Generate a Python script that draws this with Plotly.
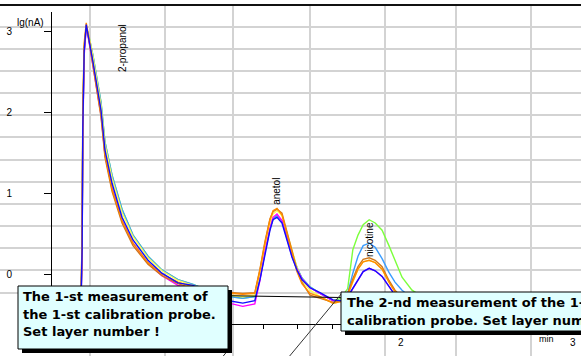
import plotly.graph_objects as go

W, H = 581, 356

# ---------------- data ----------------
t = [0.000, 0.100, 0.140, 0.146, 0.150, 0.158, 0.170, 0.185, 0.209, 0.256,
     0.279, 0.320, 0.378, 0.442, 0.529, 0.610, 0.703, 0.791, 0.900, 1.000,
     1.080, 1.150, 1.180, 1.209, 1.238, 1.256, 1.279, 1.308, 1.337, 1.366,
     1.395, 1.424, 1.471, 1.529, 1.605, 1.650, 1.690, 1.720, 1.750, 1.780,
     1.815, 1.850, 1.890, 1.930, 1.965, 2.006, 2.064, 2.150, 2.400]

blue = [-0.30, -0.30, -0.30, 0.30, 1.80, 2.75, 3.08, 2.90, 2.62, 2.02,
        1.53, 1.12, 0.70, 0.42, 0.17, 0.01, -0.11, -0.14, -0.24, -0.33,
        -0.36, -0.33, -0.07, 0.26, 0.54, 0.67, 0.70, 0.63, 0.42, 0.21,
        0.05, -0.07, -0.17, -0.23, -0.32, -0.33, -0.28, -0.18, -0.08, 0.03,
        0.07, 0.04, -0.03, -0.16, -0.26, -0.31, -0.33, -0.33, -0.33]

orange = [-0.28, -0.28, -0.28, 0.50, 2.00, 2.85, 3.10, 2.92, 2.60, 1.98,
          1.48, 1.05, 0.66, 0.38, 0.14, 0.00, -0.10, -0.16, -0.22, -0.24,
          -0.25, -0.24, 0.05, 0.38, 0.67, 0.78, 0.81, 0.73, 0.50, 0.26,
          0.03, -0.12, -0.24, -0.28, -0.36, -0.34, -0.26, -0.09, 0.06, 0.15,
          0.17, 0.14, 0.06, -0.10, -0.22, -0.30, -0.33, -0.33, -0.33]

dark_orange = [-0.27, -0.27, -0.27, 0.45, 1.95, 2.80, 3.06, 2.90, 2.56, 1.94,
               1.44, 1.02, 0.63, 0.35, 0.12, -0.02, -0.12, -0.18, -0.21, -0.23,
               -0.24, -0.23, 0.06, 0.40, 0.68, 0.77, 0.80, 0.75, 0.53, 0.29,
               0.05, -0.10, -0.26, -0.30, -0.35, -0.33, -0.24, -0.06, 0.09, 0.18,
               0.20, 0.17, 0.09, -0.08, -0.20, -0.29, -0.33, -0.33, -0.33]

magenta = [-0.32, -0.32, -0.32, 0.20, 1.70, 2.70, 3.05, 2.88, 2.58, 1.96,
           1.47, 1.06, 0.66, 0.38, 0.13, -0.02, -0.14, -0.18, -0.28, -0.36,
           -0.40, -0.37, -0.08, 0.27, 0.56, 0.70, 0.74, 0.66, 0.44, 0.22,
           0.06, -0.06, -0.17, -0.24, -0.33, -0.33, -0.28, -0.18, -0.08, 0.03,
           0.07, 0.04, -0.03, -0.16, -0.26, -0.31, -0.33, -0.33, -0.33]

yellow = [-0.28, -0.28, -0.28, 0.40, 1.90, 2.80, 3.06, 2.95, 2.68, 2.08,
          1.60, 1.18, 0.76, 0.46, 0.20, 0.04, -0.08, -0.14, -0.22, -0.26,
          -0.28, -0.26, 0.00, 0.33, 0.62, 0.74, 0.78, 0.72, 0.52, 0.30,
          0.08, -0.08, -0.20, -0.28, -0.36, -0.34, -0.26, -0.09, 0.06, 0.15,
          0.17, 0.14, 0.06, -0.10, -0.22, -0.30, -0.33, -0.33, -0.33]

light_blue = [-0.30, -0.30, -0.30, 0.30, 1.80, 2.75, 3.05, 2.94, 2.70, 2.12,
              1.63, 1.22, 0.80, 0.48, 0.22, 0.05, -0.07, -0.13, -0.22, -0.28,
              -0.30, -0.28, -0.05, 0.28, 0.56, 0.68, 0.72, 0.66, 0.46, 0.25,
              0.08, -0.05, -0.16, -0.24, -0.33, -0.33, -0.24, 0.01, 0.22, 0.35,
              0.38, 0.33, 0.19, 0.02, -0.10, -0.20, -0.30, -0.33, -0.33]

green = [-0.30, -0.30, -0.30, 0.30, 1.80, 2.75, 3.05, 2.94, 2.70, 2.12,
         1.63, 1.22, 0.80, 0.48, 0.22, 0.05, -0.07, -0.13, -0.22, -0.28,
         -0.30, -0.28, -0.05, 0.28, 0.56, 0.68, 0.72, 0.66, 0.46, 0.25,
         0.08, -0.05, -0.16, -0.24, -0.33, -0.30, -0.18, 0.30, 0.48, 0.61,
         0.67, 0.63, 0.54, 0.35, 0.17, -0.04, -0.20, -0.32, -0.33]

baseline_t = [0.90, 1.65]
baseline_v = [-0.265, -0.29]

peak_names = ["2-propanol", "anetol", "nicotine"]
peak_label_t = [0.378, 1.276, 1.820]
peak_label_v = [2.79, 1.02, 0.42]

x_tick_vals = [0.0, 0.2, 0.4, 0.6, 0.8, 1.0, 1.2, 1.4, 1.6, 1.8, 2.0,
               2.2, 2.4, 2.6, 2.8, 3.0]
# labels "0" and "1" sit under the first callout in the original picture
x_label_vals = [2, 3]
x_label_text = ["2", "3"]
y_tick_vals = [0, 1, 2, 3]
y_tick_text = ["0", "1", "2", "3"]

callout1 = ["The 1-st measurement of", "the 1-st calibration probe.",
            "Set layer number !"]
callout2 = ["The 2-nd measurement of the 1-st",
            "calibration probe. Set layer number !"]

# ---------------- figure ----------------
def px(x):
    return x / W


def py(y):
    return 1 - y / H


fig = go.Figure()
series = [
    (green, "#7cff3c"),
    (light_blue, "#3a9cff"),
    (yellow, "#ffff50"),
    (magenta, "#ff00ff"),
    (dark_orange, "#d0781c"),
    (orange, "#ff8a00"),
    (blue, "#1010ff"),
]
for vals, col in series:
    fig.add_trace(go.Scatter(x=t, y=vals, mode="lines",
                             line=dict(color=col, width=1.4),
                             hoverinfo="skip", showlegend=False))

fig.add_trace(go.Scatter(x=baseline_t, y=baseline_v, mode="lines",
                         line=dict(color="black", width=1),
                         hoverinfo="skip", showlegend=False))

shapes = []
grid_col = "#d3d3d3"
for gx in [90, 165, 233, 310, 385, 456, 531]:
    shapes.append(dict(type="line", xref="paper", yref="paper",
                       x0=px(gx), x1=px(gx), y0=0, y1=py(6),
                       line=dict(color=grid_col, width=2), layer="below"))
for gy in [27, 49, 71, 93, 115, 137, 160, 182, 204, 226, 248, 270, 293]:
    shapes.append(dict(type="line", xref="paper", yref="paper",
                       x0=0, x1=1, y0=py(gy), y1=py(gy),
                       line=dict(color=grid_col, width=2), layer="below"))
# top frame line
shapes.append(dict(type="line", xref="paper", yref="paper",
                   x0=0, x1=1, y0=py(5), y1=py(5),
                   line=dict(color="#111111", width=2), layer="above"))
# pointer lines
shapes.append(dict(type="line", xref="paper", yref="paper",
                   x0=px(342), y0=py(293), x1=px(283), y1=py(364),
                   line=dict(color="#333333", width=1), layer="above"))
shapes.append(dict(type="line", xref="paper", yref="paper",
                   x0=px(229), y0=py(349), x1=px(220), y1=py(360),
                   line=dict(color="#333333", width=1), layer="above"))
# callout boxes with shadows
shapes.append(dict(type="rect", xref="paper", yref="paper",
                   x0=px(22), x1=px(232), y0=py(353), y1=py(290),
                   fillcolor="black", line=dict(width=0), layer="above"))
shapes.append(dict(type="rect", xref="paper", yref="paper",
                   x0=px(18), x1=px(228), y0=py(349), y1=py(286),
                   fillcolor="#e0ffff", line=dict(color="black", width=1),
                   layer="above"))
shapes.append(dict(type="rect", xref="paper", yref="paper",
                   x0=px(345), x1=px(620), y0=py(335), y1=py(296),
                   fillcolor="black", line=dict(width=0), layer="above"))
shapes.append(dict(type="rect", xref="paper", yref="paper",
                   x0=px(341), x1=px(616), y0=py(331), y1=py(292),
                   fillcolor="#e0ffff", line=dict(color="black", width=1),
                   layer="above"))

annotations = []
for name, tx, vy in zip(peak_names, peak_label_t, peak_label_v):
    annotations.append(dict(x=tx, y=vy, xref="x", yref="y", text=name,
                            textangle=-90, showarrow=False,
                            font=dict(family="Liberation Sans", size=10,
                                      color="black")))
tick_font = dict(family="Liberation Sans", size=10, color="black")
for xv, xt in zip(x_label_vals, x_label_text):
    annotations.append(dict(x=xv, y=py(342), xref="x", yref="paper",
                            text=xt, showarrow=False, xanchor="center",
                            yanchor="middle", font=tick_font))
annotations.append(dict(x=px(15), y=py(22), xref="paper", yref="paper",
                        text="lg(nA)", showarrow=False, xanchor="left",
                        yanchor="middle", font=tick_font))
annotations.append(dict(x=px(546), y=py(339), xref="paper", yref="paper",
                        text="min", showarrow=False, xanchor="center",
                        yanchor="middle",
                        font=dict(family="Liberation Sans", size=9,
                                  color="black")))
box_font = dict(family="DejaVu Sans", size=13, color="black")
for line, cy in zip(callout1, [296, 314, 331.5]):
    annotations.append(dict(x=px(21), y=py(cy), xref="paper", yref="paper",
                            text="<b>" + line + "</b>", showarrow=False,
                            xanchor="left", yanchor="middle", font=box_font))
for line, cy in zip(callout2, [302, 320]):
    annotations.append(dict(x=px(345), y=py(cy), xref="paper", yref="paper",
                            text="<b>" + line + "</b>", showarrow=False,
                            xanchor="left", yanchor="middle", font=box_font))

x_left_t = (52 - 57) / 172
x_right_t = (581 - 57) / 172
y_bot_v = (274 - 324) / 81
y_top_v = (274 - 12) / 81

fig.update_layout(
    width=W, height=H, autosize=False,
    margin=dict(l=0, r=0, t=0, b=0),
    paper_bgcolor="white", plot_bgcolor="rgba(0,0,0,0)",
    shapes=shapes, annotations=annotations,
    xaxis=dict(domain=[px(52), 1], range=[x_left_t, x_right_t],
               showline=True, linecolor="black", linewidth=1,
               ticks="outside", ticklen=4, tickcolor="black", tickwidth=1,
               tickvals=x_tick_vals, showticklabels=False,
               showgrid=False, zeroline=False, fixedrange=True),
    yaxis=dict(domain=[py(324), py(12)], range=[y_bot_v, y_top_v],
               showline=True, linecolor="black", linewidth=1,
               ticks="outside", ticklen=7, tickcolor="black", tickwidth=1,
               tickvals=y_tick_vals, ticktext=y_tick_text,
               ticklabelstandoff=30, ticklabeloverflow="allow",
               tickfont=tick_font,
               showgrid=False, zeroline=False, fixedrange=True),
)

fig.write_html(
    "out.html",
    config={"displayModeBar": False},
    post_script="document.body.style.margin='0px';"
                "document.body.style.overflow='hidden';",
)
